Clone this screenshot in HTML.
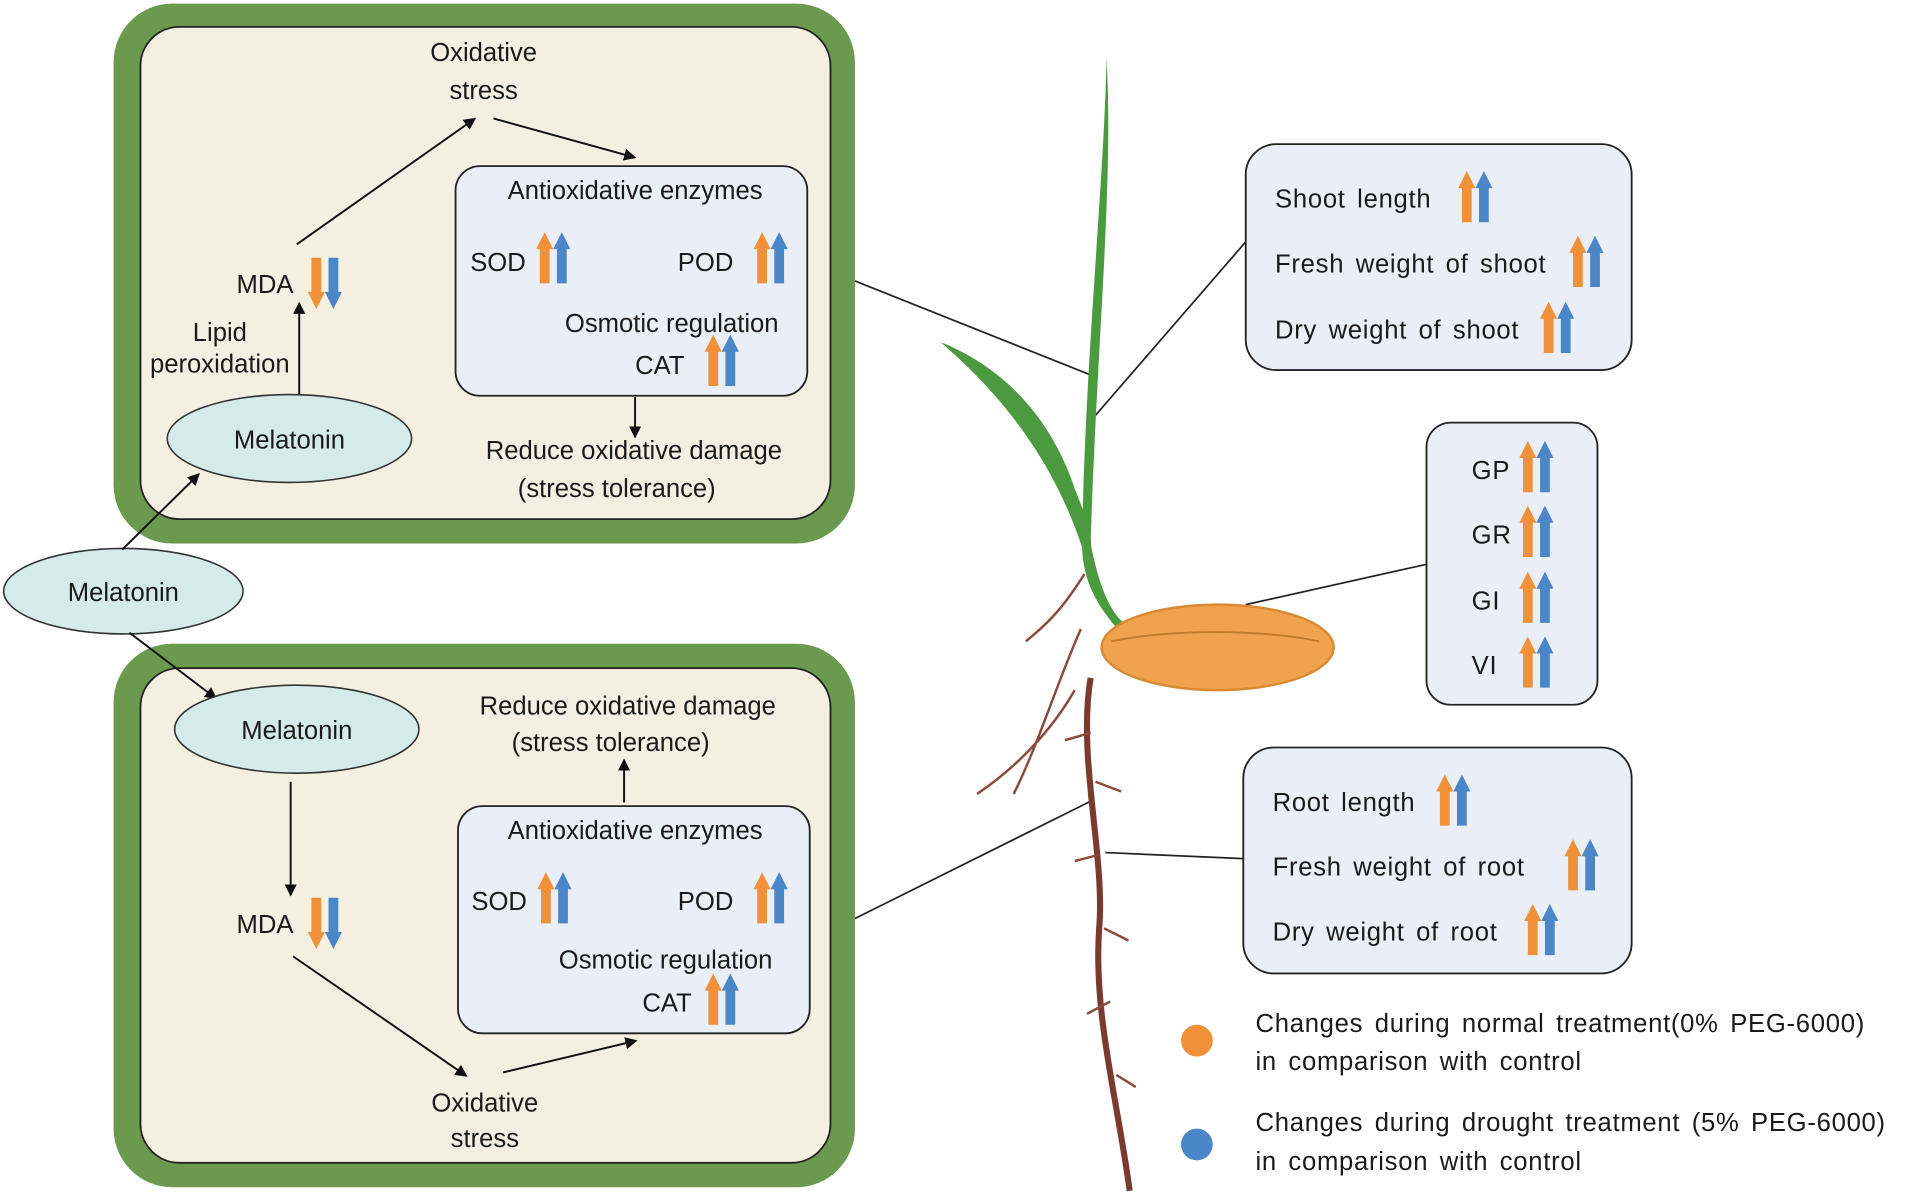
<!DOCTYPE html>
<html><head><meta charset="utf-8"><style>html,body{margin:0;padding:0;background:#fff}svg{display:block}text{font-family:"Liberation Sans",sans-serif;font-size:21px;fill:#1a1a1a}.r text{letter-spacing:0.6px;word-spacing:3px}</style></head><body>
<svg width="1915" height="1197" viewBox="0 0 1568 980" preserveAspectRatio="none" xmlns="http://www.w3.org/2000/svg">
<defs>
<marker id="ah" markerWidth="10" markerHeight="10" refX="9" refY="5" orient="auto" markerUnits="userSpaceOnUse"><path d="M0,0 L10,5 L0,10 Z" fill="#111"/></marker>
<g id="up"><path d="M2,42 V14 H-1 L6,0 L13,14 H10 V42 Z" fill="#f0913a"/><path d="M16,42 V14 H13 L20,0 L27,14 H24 V42 Z" fill="#4a86c8"/></g>
<g id="dn"><path d="M2,0 V28 H-1 L6,42 L13,28 H10 V0 Z" fill="#f0913a"/><path d="M16,0 V28 H13 L20,42 L27,28 H24 V0 Z" fill="#4a86c8"/></g>
</defs>
<rect width="1568" height="980" fill="#fff"/>
<rect x="93" y="3" width="607" height="442" rx="48" fill="#6b9a4e"/>
<rect x="115" y="22" width="565" height="403" rx="32" fill="#f3f0e1" stroke="#222" stroke-width="1.5"/>
<rect x="93" y="527" width="607" height="445" rx="48" fill="#6b9a4e"/>
<rect x="115" y="547" width="565" height="405" rx="32" fill="#f3f0e1" stroke="#222" stroke-width="1.5"/>

<text x="396" y="50" text-anchor="middle">Oxidative</text>
<text x="396" y="81" text-anchor="middle">stress</text>
<line x1="243" y1="200" x2="389" y2="97" stroke="#111" stroke-width="1.6" marker-end="url(#ah)"/>
<line x1="404" y1="97" x2="520" y2="129" stroke="#111" stroke-width="1.6" marker-end="url(#ah)"/>
<rect x="373" y="136" width="288" height="188" rx="20" fill="#e9eef7" stroke="#222" stroke-width="1.5"/>
<text x="520" y="163" text-anchor="middle">Antioxidative  enzymes</text>
<text x="385" y="222">SOD</text><use href="#up" x="440" y="190"/>
<text x="555" y="222">POD</text><use href="#up" x="618" y="190"/>
<text x="550" y="272" text-anchor="middle">Osmotic regulation</text>
<text x="520" y="306">CAT</text><use href="#up" x="578" y="274"/>
<line x1="520" y1="325" x2="520" y2="358" stroke="#111" stroke-width="1.6" marker-end="url(#ah)"/>
<text x="519" y="376" text-anchor="middle">Reduce  oxidative  damage</text>
<text x="505" y="407" text-anchor="middle">(stress  tolerance)</text>
<text x="217" y="240" text-anchor="middle">MDA</text><use href="#dn" x="253" y="211"/>
<line x1="245" y1="332" x2="245" y2="248" stroke="#111" stroke-width="1.6" marker-end="url(#ah)"/>
<text x="180" y="279" text-anchor="middle" font-size="19">Lipid</text>
<text x="180" y="305" text-anchor="middle" font-size="19">peroxidation</text>
<ellipse cx="237" cy="359" rx="100" ry="36" fill="#d4ebe9" stroke="#333" stroke-width="1.3"/>
<text x="237" y="367" text-anchor="middle" font-size="23">Melatonin</text>

<ellipse cx="101" cy="484" rx="98" ry="35" fill="#d4ebe9" stroke="#333" stroke-width="1.3"/>
<text x="101" y="492" text-anchor="middle" font-size="23">Melatonin</text>
<line x1="100" y1="450" x2="163" y2="388" stroke="#111" stroke-width="1.6" marker-end="url(#ah)"/>
<line x1="106" y1="518" x2="177" y2="572" stroke="#111" stroke-width="1.6" marker-end="url(#ah)"/>

<ellipse cx="243" cy="597" rx="100" ry="36" fill="#d4ebe9" stroke="#333" stroke-width="1.3"/>
<text x="243" y="605" text-anchor="middle" font-size="23">Melatonin</text>
<text x="514" y="585" text-anchor="middle">Reduce  oxidative  damage</text>
<text x="500" y="615" text-anchor="middle">(stress  tolerance)</text>
<line x1="511" y1="657" x2="511" y2="622" stroke="#111" stroke-width="1.6" marker-end="url(#ah)"/>
<rect x="375" y="660" width="288" height="186" rx="20" fill="#e9eef7" stroke="#222" stroke-width="1.5"/>
<text x="520" y="687" text-anchor="middle">Antioxidative  enzymes</text>
<text x="386" y="745">SOD</text><use href="#up" x="441" y="714"/>
<text x="555" y="745">POD</text><use href="#up" x="618" y="714"/>
<text x="545" y="793" text-anchor="middle">Osmotic regulation</text>
<text x="526" y="828">CAT</text><use href="#up" x="578" y="797"/>
<text x="217" y="764" text-anchor="middle">MDA</text><use href="#dn" x="253" y="735"/>
<line x1="238" y1="640" x2="238" y2="733" stroke="#111" stroke-width="1.6" marker-end="url(#ah)"/>
<line x1="240" y1="783" x2="382" y2="881" stroke="#111" stroke-width="1.6" marker-end="url(#ah)"/>
<line x1="412" y1="878" x2="521" y2="852" stroke="#111" stroke-width="1.6" marker-end="url(#ah)"/>
<text x="397" y="910" text-anchor="middle">Oxidative</text>
<text x="397" y="939" text-anchor="middle">stress</text>

<line x1="700" y1="230" x2="893" y2="307" stroke="#222" stroke-width="1.4"/>
<line x1="700" y1="752" x2="893" y2="656" stroke="#222" stroke-width="1.4"/>
<line x1="1020" y1="198" x2="897" y2="340" stroke="#222" stroke-width="1.4"/>
<line x1="1168" y1="462" x2="1020" y2="495" stroke="#222" stroke-width="1.4"/>
<line x1="1018" y1="703" x2="905" y2="698" stroke="#222" stroke-width="1.4"/>

<path d="M893,555 C882,620 905,700 900,760 C895,830 915,900 925,975" fill="none" stroke="#7a3b2e" stroke-width="5"/>
<path d="M888,470 C875,490 865,505 840,525 M885,515 C865,560 850,610 830,650 M880,565 C860,600 830,630 800,650 M893,600 L872,606 M897,640 L918,648 M899,700 L880,705 M904,760 L924,770 M909,820 L890,830 M914,880 L930,890" fill="none" stroke="#8a4a3a" stroke-width="2"/>
<path d="M906,48 C912,150 898,280 893,445 C900,480 908,500 922,512 L915,515 C898,495 886,475 886,445 C888,300 904,150 906,48 Z" fill="#4a9a3e"/>
<path d="M770,280 C820,300 860,340 880,400 C888,420 895,440 893,448 L886,448 C870,400 840,340 770,280 Z" fill="#4c9a40"/>
<ellipse cx="997" cy="530" rx="95" ry="35" fill="#f0a24e" stroke="#d98a30" stroke-width="2"/>
<path d="M910,525 C960,515 1030,515 1080,525" fill="none" stroke="#c07a2a" stroke-width="1.5"/>

<g class="r">
<rect x="1020" y="118" width="316" height="185" rx="25" fill="#e9eef7" stroke="#222" stroke-width="1.5"/>
<text x="1044" y="170">Shoot length</text><use href="#up" x="1195" y="140"/>
<text x="1044" y="223">Fresh weight of shoot</text><use href="#up" x="1286" y="193"/>
<text x="1044" y="277">Dry weight of shoot</text><use href="#up" x="1262" y="247"/>

<rect x="1168" y="346" width="140" height="231" rx="20" fill="#e9eef7" stroke="#222" stroke-width="1.5"/>
<text x="1205" y="392">GP</text><use href="#up" x="1245" y="361"/>
<text x="1205" y="445">GR</text><use href="#up" x="1245" y="414"/>
<text x="1205" y="499">GI</text><use href="#up" x="1245" y="468"/>
<text x="1205" y="552">VI</text><use href="#up" x="1245" y="521"/>

<rect x="1018" y="612" width="318" height="185" rx="25" fill="#e9eef7" stroke="#222" stroke-width="1.5"/>
<text x="1042" y="664">Root length</text><use href="#up" x="1177" y="634"/>
<text x="1042" y="717">Fresh weight  of root</text><use href="#up" x="1282" y="687"/>
<text x="1042" y="770">Dry weight of root</text><use href="#up" x="1249" y="740"/>

<circle cx="980" cy="852" r="13" fill="#f0913a"/>
<circle cx="980" cy="937" r="13" fill="#4a86c8"/>
<text x="1028" y="845">Changes during normal treatment(0% PEG-6000)</text>
<text x="1028" y="876">in comparison with control</text>
<text x="1028" y="926">Changes during drought treatment (5% PEG-6000)</text>
<text x="1028" y="958">in comparison with control</text>
</g>
</svg>
</body></html>
